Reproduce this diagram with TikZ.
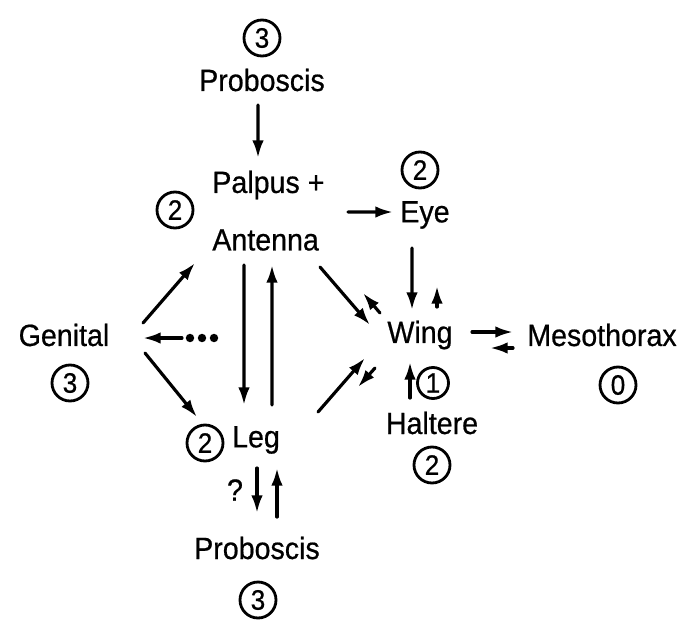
\documentclass[tikz,border=0pt]{standalone}
\usepackage{fontspec}
\setmainfont{Liberation Sans}[FakeBold=0.6, FakeStretch=0.93]
\usetikzlibrary{arrows.meta}

\tikzset{
	lbl/.style={font=\fontsize{17.5}{20}\selectfont, inner sep=0pt},
	circnum/.style={draw, circle, line width=1.6pt, minimum size=0.72cm, inner sep=0pt, font=\fontsize{16}{18}\selectfont},
	arr/.style={-{Latex[length=10pt,width=6.5pt]}, line width=1.8pt}
}

\begin{document}
\begin{tikzpicture}[line cap=round, line join=round]
	\useasboundingbox (0,0) rectangle (13.72,-12.44);
	
	% ---------- top proboscis ----------
	\node[circnum] (p3top) at (5.24,-0.76) {3};
	\node[lbl] (probtop) at (5.24,-1.60) {Proboscis};
	
	% ---------- palpus + antenna ----------
	\node[lbl, anchor=west] (palpus) at (4.24,-3.70) {Palpus +};
	\node[lbl, anchor=west] (antenna) at (4.24,-4.80) {Antenna};
	\node[circnum] (c2pa) at (3.50,-4.20) {2};
	
	% ---------- eye, wing, mesothorax, haltere ----------
	\node[circnum] (eye2) at (8.40,-3.40) {2};
	\node[lbl] (eye) at (8.50,-4.30) {Eye};
	\node[lbl] (wing) at (8.40,-6.70) {Wing};
	\node[lbl] (meso) at (12.04,-6.70) {Mesothorax};
	\node[circnum] (meso0) at (12.36,-7.70) {0};
	\node[circnum, minimum size=0.62cm] (halt1) at (8.66,-7.66) {1};
	\node[lbl] (haltere) at (8.64,-8.46) {Haltere};
	\node[circnum] (halt2) at (8.64,-9.30) {2};
	
	% ---------- genital ----------
	\node[lbl] (genital) at (1.28,-6.70) {Genital};
	\node[circnum] (gen3) at (1.40,-7.66) {3};
	
	% ---------- leg and lower proboscis ----------
	\node[lbl] (leg) at (5.12,-8.80) {Leg};
	\node[circnum] (leg2) at (4.10,-8.86) {2};
	\node[lbl] (qmark) at (4.70,-9.80) {?};
	\node[lbl] (probbot) at (5.14,-10.96) {Proboscis};
	\node[circnum] (p3bot) at (5.16,-12.00) {3};
	
	% ---------- connectors ----------
	\draw[arr] ([shift={(-0.08,-0.50)}]probtop.center) -- ([shift={(0.92,0.54)}]palpus.west);
	\draw[arr] ([shift={(2.72,-0.54)}]palpus.west) -- ([shift={(-0.64,0.06)}]eye.center);
	\draw[arr] ([shift={(-0.26,-0.66)}]eye.center) -- ([shift={(-0.16,0.50)}]wing.center);
	\draw[arr] ([shift={(0.34,0.56)}]wing.center) -- ([shift={(0.34,0.98)}]wing.center);
	
	% wing <-> mesothorax
	\draw[arr] ([shift={(1.04,0.06)}]wing.center) -- ([shift={(-1.78,0.06)}]meso.center);
	\draw[arr] ([shift={(-1.78,-0.26)}]meso.center) -- ([shift={(1.40,-0.26)}]wing.center);
	
	% haltere -> wing
	\draw[arr] ([shift={(-0.44,0.50)}]haltere.center) -- ([shift={(-0.20,-0.54)}]wing.center);
	
	% antenna <-> wing, leg <-> wing
	\draw[arr] ([shift={(2.16,-0.54)}]antenna.west) -- ([shift={(-1.00,0.20)}]wing.center);
	\draw[arr] ([shift={(-0.80,0.44)}]wing.center) -- ([shift={(3.02,-1.06)}]antenna.west);
	\draw[arr] ([shift={(1.24,0.56)}]leg.center) -- ([shift={(-1.10,-0.46)}]wing.center);
	\draw[arr] ([shift={(-0.90,-0.66)}]wing.center) -- ([shift={(2.04,1.06)}]leg.center);
	
	% genital
	\draw[arr] ([shift={(1.58,0.24)}]genital.center) -- ([shift={(-0.34,-0.46)}]antenna.west);
	\draw[arr] ([shift={(1.62,-0.36)}]genital.center) -- ([shift={(-1.18,0.46)}]leg.center);
	\draw[arr] ([shift={(2.36,-0.06)}]genital.center) coordinate (dots) -- ([shift={(1.58,-0.06)}]genital.center);
	\foreach \dx in {0.16,0.40,0.64}
		\fill ([xshift=\dx cm]dots) circle (2.4pt);
	
	% antenna <-> leg
	\draw[arr] ([shift={(0.64,-0.50)}]antenna.west) -- ([shift={(-0.24,0.70)}]leg.center);
	\draw[arr] ([shift={(0.32,0.70)}]leg.center) -- ([shift={(1.20,-0.50)}]antenna.west);
	
	% leg <-> lower proboscis
	\draw[arr] ([shift={(0.02,-0.56)}]leg.center) -- ([shift={(0,0.70)}]probbot.center);
	\draw[arr] ([shift={(0.40,0.62)}]probbot.center) -- ([shift={(0.42,-0.56)}]leg.center);
	
\end{tikzpicture}
\end{document}
